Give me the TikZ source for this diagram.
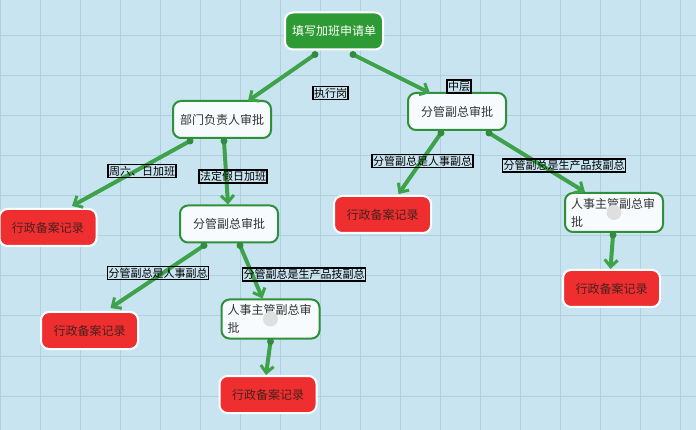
\documentclass[tikz,border=0pt]{standalone}
\usepackage{fontspec}
\setmainfont{Noto Sans CJK SC}
\usetikzlibrary{arrows.meta}
\definecolor{bg}{HTML}{C9E4F1}
\definecolor{gridc}{HTML}{B2CFDD}
\definecolor{topgreen}{HTML}{2E9A34}
\definecolor{bordgreen}{HTML}{2F903A}
\definecolor{linkgreen}{HTML}{3DA24A}
\definecolor{recred}{HTML}{EF2F2F}
\definecolor{rectext}{HTML}{4A2020}
\definecolor{nodetext}{HTML}{333333}
\definecolor{nodefill}{HTML}{F7FBFD}
\tikzset{
  basebox/.style={rounded corners=8pt, line width=2pt, minimum width=98pt, minimum height=37pt, inner sep=0pt, font=\fontsize{12}{14}\selectfont},
  startbox/.style={basebox, fill=topgreen, draw=white, text=white},
  approvebox/.style={basebox, fill=nodefill, draw=bordgreen, text=nodetext},
  recordbox/.style={basebox, fill=recred, draw=white, text=rectext, minimum width=97pt},
  hrbox/.style={basebox, fill=nodefill, draw=bordgreen, text=nodetext, align=left, text width=86pt, inner xsep=6pt, minimum height=39pt, font=\fontsize{12}{18}\selectfont},
  lbl/.style={draw=black, line width=1.6pt, inner xsep=1pt, inner ysep=1.5pt, font=\fontsize{11}{12}\selectfont, text=black},
  link/.style={draw=linkgreen, line width=4pt, -{Straight Barb[length=7pt,width=13pt,line width=3pt]}},
  dot/.style={circle, fill=linkgreen!85!black, inner sep=0pt, minimum size=7pt},
  faint/.style={circle, fill=gray!25, inner sep=0pt, minimum size=15pt}
}
\begin{document}
\begin{tikzpicture}[x=1pt,y=-1pt]
\useasboundingbox (0,0) rectangle (696,430);
\fill[bg] (0,0) rectangle (696,430);
\foreach \gx in {0,40,...,680} \draw[gridc, line width=1pt] (\gx,0) -- (\gx,430);
\foreach \gy in {36,76,...,396} \draw[gridc, line width=1pt] (0,\gy) -- (696,\gy);

% links first (under nodes)
\node[startbox] (top) at (334,31) {填写加班申请单};
\node[approvebox] (dept) at (222,119.5) {部门负责人审批};
\node[approvebox] (rgt) at (457,111.5) {分管副总审批};
\node[recordbox] (lrec1) at (48,227.5) {行政备案记录};
\node[approvebox] (mid) at (229,224) {分管副总审批};
\node[recordbox] (rrec1) at (382.5,214.5) {行政备案记录};
\node[hrbox] (hr2) at (614,212.5) {人事主管副总审\\批};
\node[faint] at (614,212.5) {};
\node[recordbox] (rrec2) at (611.5,288.5) {行政备案记录};
\node[recordbox] (lrec2) at (89.5,330.5) {行政备案记录};
\node[hrbox] (hr1) at (270.5,319) {人事主管副总审\\批};
\node[faint] at (270.5,319) {};
\node[recordbox] (rec3) at (268,394.5) {行政备案记录};

\coordinate (s1) at ([xshift=-19pt,yshift=-4pt]top.south);
\coordinate (s2) at ([xshift=19pt,yshift=-4pt]top.south);
\coordinate (s3) at ([xshift=-32pt,yshift=-2pt]dept.south);
\coordinate (s4) at ([xshift=2pt,yshift=-2pt]dept.south);
\coordinate (s5) at ([xshift=-25pt,yshift=-2pt]mid.south);
\coordinate (s6) at ([xshift=11pt,yshift=-2pt]mid.south);
\coordinate (s7) at ([yshift=-2pt]hr1.south);
\coordinate (s8) at ([xshift=-16pt,yshift=-2pt]rgt.south);
\coordinate (s9) at ([xshift=32pt,yshift=-2pt]rgt.south);
\coordinate (s10) at ([xshift=-1pt,yshift=-2pt]hr2.south);

\draw[link] (s1) -- ([xshift=26pt,yshift=-1pt]dept.north);
\draw[link] (s2) -- ([xshift=-27pt,yshift=-1pt]rgt.north);
\draw[link] (s3) -- ([xshift=24pt,yshift=2pt]lrec1.north);
\draw[link] (s4) -- ([xshift=-1pt]mid.north);
\draw[link] (s5) -- ([xshift=21pt,yshift=3pt]lrec2.north);
\draw[link] (s6) -- ([xshift=-8pt]hr1.north);
\draw[link] (s7) -- ([xshift=-2pt]rec3.north);
\draw[link] (s8) -- ([xshift=16pt,yshift=1pt]rrec1.north);
\draw[link] (s9) -- ([xshift=-29pt]hr2.north);
\draw[link] (s10) -- ([xshift=-1pt]rrec2.north);
\foreach \s in {s1,s2,s3,s4,s5,s6,s7,s8,s9,s10} \node[dot] at (\s) {};

\node[lbl] (l1) at (330.5,93) {执行岗};
\node[lbl] (l2) at (459,86.5) {中层};
\node[lbl] (l3) at (142,171) {周六、日加班};
\node[lbl] (l4) at (233,176.5) {法定假日加班};
\node[lbl] (l5) at (158,273) {分管副总是人事副总};
\node[lbl] (l6) at (304,274.5) {分管副总是生产品技副总};
\node[lbl] (l7) at (422.5,161) {分管副总是人事副总};
\node[lbl] (l8) at (564,165.5) {分管副总是生产品技副总};
\end{tikzpicture}
\end{document}
